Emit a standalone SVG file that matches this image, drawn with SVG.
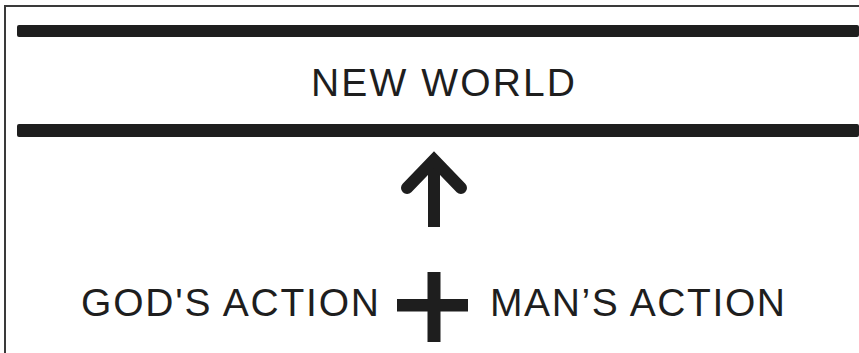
<svg xmlns="http://www.w3.org/2000/svg" width="859" height="353" viewBox="0 0 859 353">
  <style>
    .lbl { font-family: "Liberation Sans", Arial, Helvetica, sans-serif; font-size: 39px; fill: #1e1e1e; }
    .bar { fill: #1e1e1e; }
    .frame { fill: none; stroke: #3a3a3a; stroke-width: 2; }
    .sym { stroke: #1e1e1e; fill: none; }
  </style>
  <rect width="859" height="353" fill="#ffffff"/>
  <path class="frame" d="M5,353 V6 H859"/>
  <g id="new-world">
    <rect class="bar" x="17" y="25" width="842" height="12" rx="2"/>
    <rect class="bar" x="17" y="124" width="842" height="13" rx="2"/>
    <text class="lbl" x="443" y="96" text-anchor="middle" textLength="264" lengthAdjust="spacing">NEW WORLD</text>
  </g>
  <g id="gods-action">
    <text class="lbl" x="81" y="316" textLength="298" lengthAdjust="spacing">GOD'S ACTION</text>
  </g>
  <g id="mans-action">
    <text class="lbl" x="490" y="316" textLength="295" lengthAdjust="spacing">MAN’S ACTION</text>
  </g>
  <g id="connectors">
    <g id="arrow-up">
      <line class="sym" x1="434" y1="162" x2="434" y2="227" stroke-width="12"/>
      <polyline class="sym" points="407,188 434,160 461,188" stroke-width="12" stroke-linecap="round" stroke-linejoin="miter"/>
    </g>
    <g id="plus">
      <rect class="bar" x="397" y="299" width="71" height="12.5"/>
      <rect class="bar" x="427.5" y="272" width="13" height="70"/>
    </g>
  </g>
</svg>
